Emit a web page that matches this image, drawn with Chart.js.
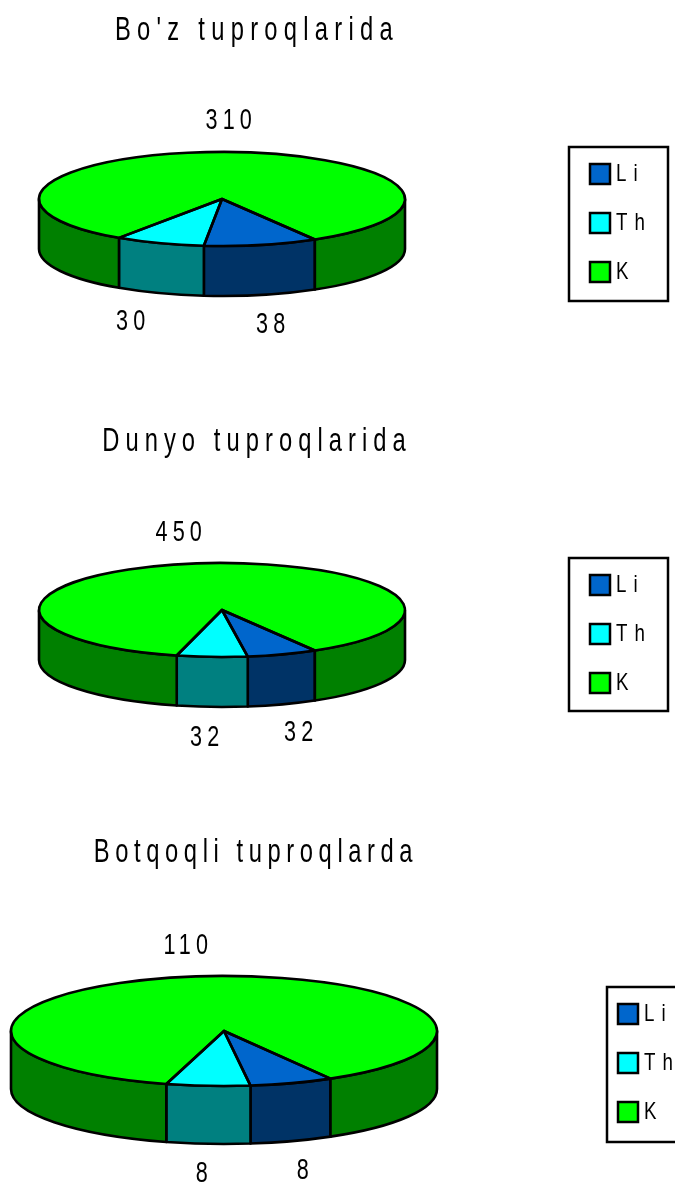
<!DOCTYPE html>
<html><head><meta charset="utf-8">
<style>html,body{margin:0;padding:0;background:#fff;overflow:hidden}
#wrap{position:relative;width:675px;height:1191px}
canvas{position:absolute;left:0}</style>
<script src="https://cdn.jsdelivr.net/npm/chart.js@4"></script>
</head><body><div id="wrap"></div>
<script>
const categories = ['Li','Th','K'];
const titles = ["Bo'z tuproqlarida","Dunyo tuproqlarida","Botqoqli tuproqlarda"];
const bozValues = [38,30,310];
const dunyoValues = [32,32,450];
const botqoqValues = [8,8,110];
const topColors = ['#0066cc','#00ffff','#00ff00'];
const sideColors = ['#003366','#008080','#008000'];

const FONT = "'Liberation Sans', Arial, sans-serif";
const layouts = [
 {values:bozValues, title:titles[0], top:0, height:410, cx:222, cy:199, rx:183, ry:47, depth:50, rot:149.5,
  titleX:257, titleY:30, titleGap:8.7,
  labels:[[271,325],[131,322],[229,121]],
  frame:[569,147,99,154], swatchX:590, swatchY:163},
 {values:dunyoValues, title:titles[1], top:410, height:410, cx:222, cy:200, rx:183, ry:47, depth:50, rot:149.5,
  titleX:257, titleY:31, titleGap:8.4,
  labels:[[299,323],[205,328],[179,123]],
  frame:[569,148,99,153], swatchX:590, swatchY:164},
 {values:botqoqValues, title:titles[2], top:820, height:371, cx:224, cy:211, rx:213, ry:55, depth:58, rot:150,
  titleX:256, titleY:32, titleGap:7.75,
  labels:[[303,351],[202,354],[186,126]],
  frame:[607,167,90,155], swatchX:618, swatchY:183}
];
const TEXT_SCALE = 0.72;

const pie3d = {
  id:'pie3d',
  afterLayout(chart,_a,o){
    const L = o.layout;
    chart.chartArea = {left:L.cx-L.rx,right:L.cx+L.rx,top:L.cy-L.rx,bottom:L.cy+L.rx,width:2*L.rx,height:2*L.rx};
    const t = chart.titleBlock;
    t.left = L.titleX-400; t.right = L.titleX+400; t.width = 800;
    t.top = L.titleY-19; t.bottom = t.top+38;
    if(!t._wrapped){
      t._wrapped = true;
      const draw = t.draw.bind(t);
      t.draw = function(){
        const c = chart.ctx; c.save();
        c.letterSpacing = L.titleGap+'px';
        c.translate(L.titleX,0); c.scale(TEXT_SCALE,1); c.translate(-L.titleX,0);
        draw(); c.restore();
      };
    }
    const g = chart.legend;
    const pad = g.options.labels.padding;
    g.left = L.swatchX-pad; g.top = L.swatchY-pad-1; g.right = g.left+110; g.bottom = g.top+190;
    g.width = 110; g.height = 190;
    if(!g._wrapped){
      g._wrapped = true;
      const draw = g.draw.bind(g);
      g.draw = function(){
        const c = chart.ctx; c.save();
        c.lineWidth = 2.5; c.strokeStyle = '#000';
        c.strokeRect(...L.frame);
        c.restore();
        const fs = g.options.labels.font.size;
        const orig = c.fillText;
        c.fillText = function(s,x,y){
          c.save(); c.letterSpacing = '9px';
          c.translate(x-fs/2+6,y); c.scale(0.78,1);
          orig.call(c,s,0,0); c.restore();
        };
        draw();
        delete c.fillText;
      };
    }
  },
  beforeDatasetsDraw(chart,_a,o){
    const L = o.layout, c = chart.ctx, arcs = chart.getDatasetMeta(0).data;
    const TAU = Math.PI*2;
    c.save();
    c.lineWidth = 2.6; c.strokeStyle = '#000'; c.lineJoin = 'round';
    arcs.forEach((el,i)=>{
      for(const k of [0,TAU]){
        const a = Math.max(el.startAngle,k), b = Math.min(el.endAngle,k+Math.PI);
        if(b<=a) continue;
        c.beginPath();
        c.ellipse(el.x,el.y,L.rx,L.ry,0,a,b);
        c.ellipse(el.x,el.y+L.depth,L.rx,L.ry,0,b,a,true);
        c.closePath();
        c.fillStyle = sideColors[i]; c.fill(); c.stroke();
      }
    });
    c.restore();
    c.save();
    c.translate(L.cx,L.cy); c.scale(1,L.ry/L.rx); c.translate(-L.cx,-L.cy);
  },
  afterDatasetsDraw(chart,_a,o){
    const L = o.layout, c = chart.ctx, arcs = chart.getDatasetMeta(0).data;
    c.restore();
    c.save();
    c.lineWidth = 2.6; c.strokeStyle = '#000'; c.lineJoin = 'round';
    arcs.forEach(el=>{
      c.beginPath(); c.moveTo(el.x,el.y);
      c.ellipse(el.x,el.y,L.rx,L.ry,0,el.startAngle,el.endAngle);
      c.closePath(); c.stroke();
    });
    c.fillStyle = '#000'; c.textAlign = 'center'; c.textBaseline = 'middle';
    c.font = "30px "+FONT; c.letterSpacing = '7px';
    L.values.forEach((v,i)=>{
      const [x,y] = L.labels[i];
      c.save(); c.translate(x,y); c.scale(TEXT_SCALE,1);
      c.fillText(String(v),3,0); c.restore();
    });
    c.restore();
  }
};

const wrap = document.getElementById('wrap');
layouts.forEach(L=>{
  const cv = document.createElement('canvas');
  cv.style.top = L.top+'px'; cv.style.width='675px'; cv.style.height=L.height+'px';
  cv.width = 675; cv.height = L.height;
  wrap.appendChild(cv);
  new Chart(cv,{
    type:'pie',
    plugins:[pie3d],
    data:{labels:categories,datasets:[{data:L.values,backgroundColor:topColors,borderWidth:0,clip:false}]},
    options:{
      responsive:false,animation:false,devicePixelRatio:1,
      rotation:L.rot,
      plugins:{
        pie3d:{layout:L},
        tooltip:{enabled:false},
        title:{display:true,text:L.title,color:'#000',font:{family:FONT,size:33,weight:'normal'},padding:0},
        legend:{display:true,position:'right',align:'start',
          labels:{color:'#000',boxWidth:20,boxHeight:20,padding:25,font:{family:FONT,size:24},
            generateLabels(){return categories.map((t,i)=>({text:t,fillStyle:topColors[i],strokeStyle:'#000',lineWidth:2.5,index:i,hidden:false}));}}}
      }
    }
  });
});
</script></body></html>
